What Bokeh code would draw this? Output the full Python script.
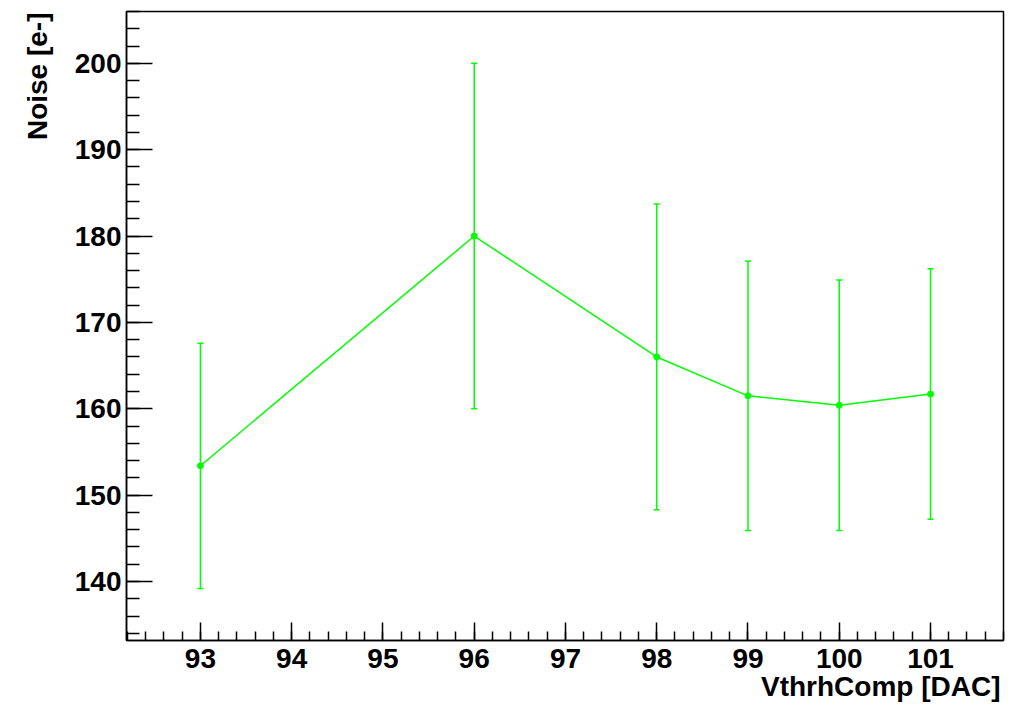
from bokeh.plotting import figure
from bokeh.models import (ColumnDataSource, Range1d, FixedTicker, Whisker, TeeHead, Title)
from bokeh.embed import file_html
from bokeh.resources import INLINE

# ---- data ----
categories = ["93", "94", "95", "96", "97", "98", "99", "100", "101"]
point_labels = ["93", "96", "98", "99", "100", "101"]
noise = [153.4, 180.0, 166.0, 161.5, 160.4, 161.7]
noise_err = [14.2, 20.0, 17.7, 15.6, 14.5, 14.5]
y_ticks = [140, 150, 160, 170, 180, 190, 200]
x_title = "VthrhComp [DAC]"
y_title = "Noise [e-]"

GREEN = "#00ff00"
FONT = "Liberation Sans"

xs = [categories.index(c) for c in point_labels]
src = ColumnDataSource(dict(
    x=xs, y=noise,
    upper=[v + e for v, e in zip(noise, noise_err)],
    lower=[v - e for v, e in zip(noise, noise_err)],
))

W, H = 1014, 712
p = figure(width=W, height=H, output_backend="svg", toolbar_location=None,
           x_range=Range1d(-0.81, 8.80), y_range=Range1d(133.17, 206.0),
           min_border_left=126, min_border_right=11, min_border_top=11,
           min_border_bottom=72)
p.background_fill_color = "white"
p.border_fill_color = "white"
p.outline_line_color = "black"
p.outline_line_width = 1.5
p.xgrid.visible = False
p.ygrid.visible = False

# axes
n = len(categories)
p.xaxis.ticker = FixedTicker(ticks=list(range(n)),
                             minor_ticks=[i * 0.2 for i in range(-4, 5 * n)])
p.xaxis.major_label_overrides = {i: c for i, c in enumerate(categories)}
p.yaxis.ticker = FixedTicker(ticks=y_ticks, minor_ticks=list(range(134, 207, 2)))

for ax in (p.xaxis[0], p.yaxis[0]):
    ax.axis_line_color = "black"
    ax.axis_line_width = 1.5
    ax.major_tick_line_color = "black"
    ax.minor_tick_line_color = "black"
    ax.major_tick_line_width = 1.5
    ax.minor_tick_line_width = 1.5
    ax.major_tick_out = 0
    ax.minor_tick_out = 0
    ax.major_label_text_font = FONT
    ax.major_label_text_font_style = "bold"
    ax.major_label_text_font_size = "28px"
    ax.major_label_text_color = "black"

p.xaxis.major_tick_in = 18
p.xaxis.minor_tick_in = 9
p.xaxis.major_label_standoff = 8
p.yaxis.major_tick_in = 26
p.yaxis.minor_tick_in = 13
p.yaxis.major_label_standoff = 5

# data
p.line("x", "y", source=src, line_color=GREEN, line_width=1.5)
p.add_layout(Whisker(source=src, base="x", upper="upper", lower="lower",
                     line_color=GREEN, line_width=1.5,
                     upper_head=TeeHead(size=6, line_color=GREEN, line_width=1.5),
                     lower_head=TeeHead(size=6, line_color=GREEN, line_width=1.5)))
p.scatter("x", "y", source=src, size=6, color=GREEN)

# axis titles (ROOT style: aligned to the axis end)
p.add_layout(Title(text=x_title, align="right", vertical_align="top",
                   offset=3, standoff=0,
                   text_font=FONT, text_font_style="bold", text_font_size="28px",
                   text_color="black"), "below")
p.add_layout(Title(text=y_title, align="right", vertical_align="bottom",
                   offset=1, standoff=38,
                   text_font=FONT, text_font_style="bold", text_font_size="28px",
                   text_color="black"), "left")

open("out.html", "w").write(file_html(p, INLINE))
